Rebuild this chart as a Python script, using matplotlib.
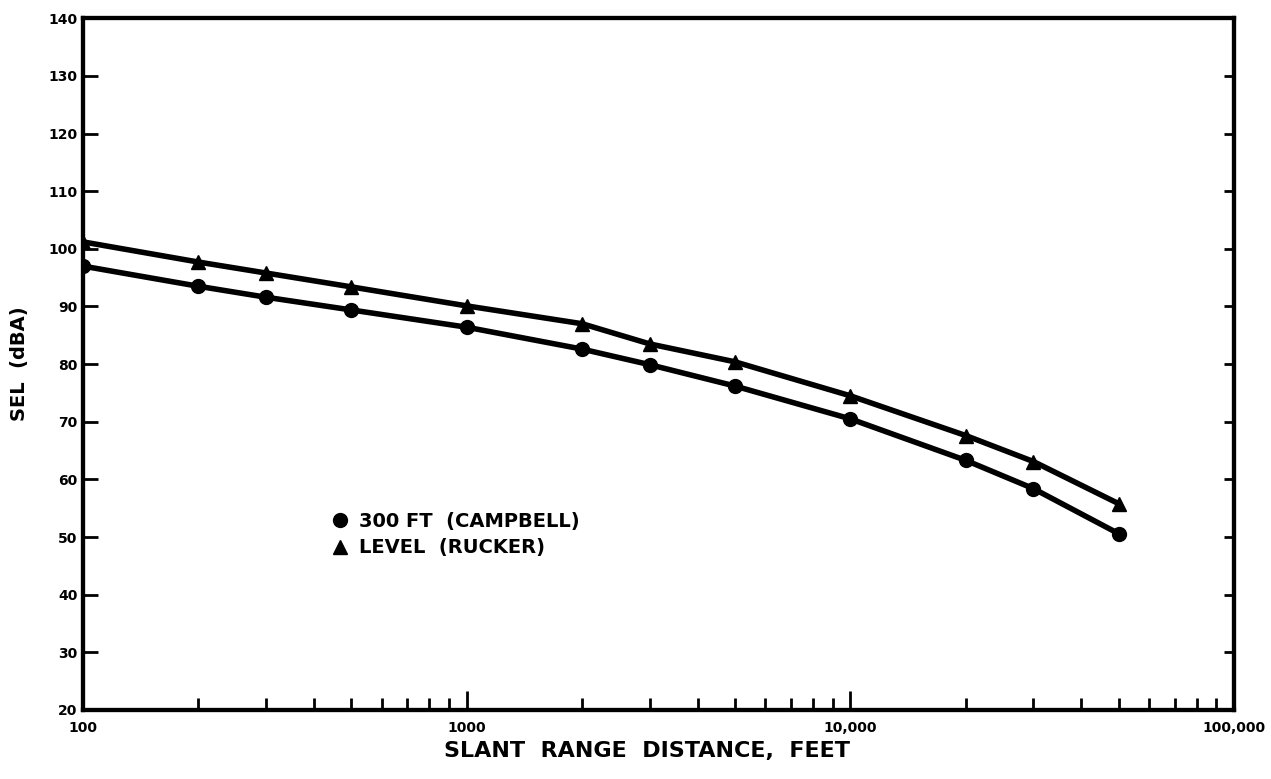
import numpy as np
import matplotlib
matplotlib.use("Agg")
import matplotlib.pyplot as plt
from matplotlib.ticker import FixedLocator, LogLocator, NullFormatter

distance = [100, 200, 300, 500, 1000, 2000, 3000, 5000, 10000, 20000, 30000, 50000]
campbell = [97.0, 93.5, 91.6, 89.4, 86.4, 82.6, 79.9, 76.2, 70.5, 63.3, 58.4, 50.6]
rucker = [101.2, 97.7, 95.8, 93.4, 90.1, 87.0, 83.5, 80.4, 74.5, 67.6, 63.1, 55.8]

x_ticks = [100, 1000, 10000, 100000]
x_labels = ["100", "1000", "10,000", "100,000"]
y_ticks = list(range(20, 141, 10))

plt.rcParams['font.family'] = ['DejaVu Sans']
plt.rcParams['font.weight'] = 'bold'

fig = plt.figure(figsize=(12.71, 7.79), dpi=100)
ax = fig.add_axes([0.0653, 0.0886, 0.9056, 0.888])

ax.plot(distance, campbell, color="black", lw=4, marker="o", ms=10,
        label="300 FT  (CAMPBELL)")
ax.plot(distance, rucker, color="black", lw=4, marker="^", ms=10,
        label="LEVEL  (RUCKER)")

ax.set_xscale("log")
ax.set_xlim(100, 100000)
ax.set_ylim(20, 140)

ax.xaxis.set_major_locator(FixedLocator(x_ticks))
ax.set_xticklabels(x_labels, fontsize=10, fontweight="bold")
ax.xaxis.set_minor_locator(LogLocator(base=10, subs=np.arange(2, 10)))
ax.xaxis.set_minor_formatter(NullFormatter())
ax.set_yticks(y_ticks)
ax.set_yticklabels([str(v) for v in y_ticks], fontsize=10, fontweight="bold")

ax.tick_params(axis="x", which="major", direction="in", length=14, width=2,
               top=False, pad=8)
ax.tick_params(axis="x", which="minor", direction="in", length=9, width=2,
               top=False)
ax.tick_params(axis="y", which="major", direction="in", length=11, width=2,
               left=True, right=False, pad=4)

# shorter inward ticks on the right edge
ax2 = ax.twinx()
ax2.set_ylim(20, 140)
ax2.set_yticks(y_ticks)
ax2.tick_params(axis="y", direction="in", length=7, width=2, labelright=False)

for a in (ax, ax2):
    for s in a.spines.values():
        s.set_linewidth(3)

ax.set_xlabel("SLANT  RANGE  DISTANCE,  FEET", fontsize=16, fontweight="bold")
ax.xaxis.set_label_coords(0.49, -0.045)
ax.set_ylabel("SEL  (dBA)", fontsize=14, fontweight="bold", labelpad=14)

leg = ax.legend(loc="upper left", bbox_to_anchor=(0.203, 0.312), frameon=False,
                handlelength=0.6, handletextpad=0.7, labelspacing=0.4,
                prop={"size": 14, "weight": "bold"})
for h in leg.legend_handles:
    h.set_linestyle("none")

fig.savefig("out.png", dpi=100)
